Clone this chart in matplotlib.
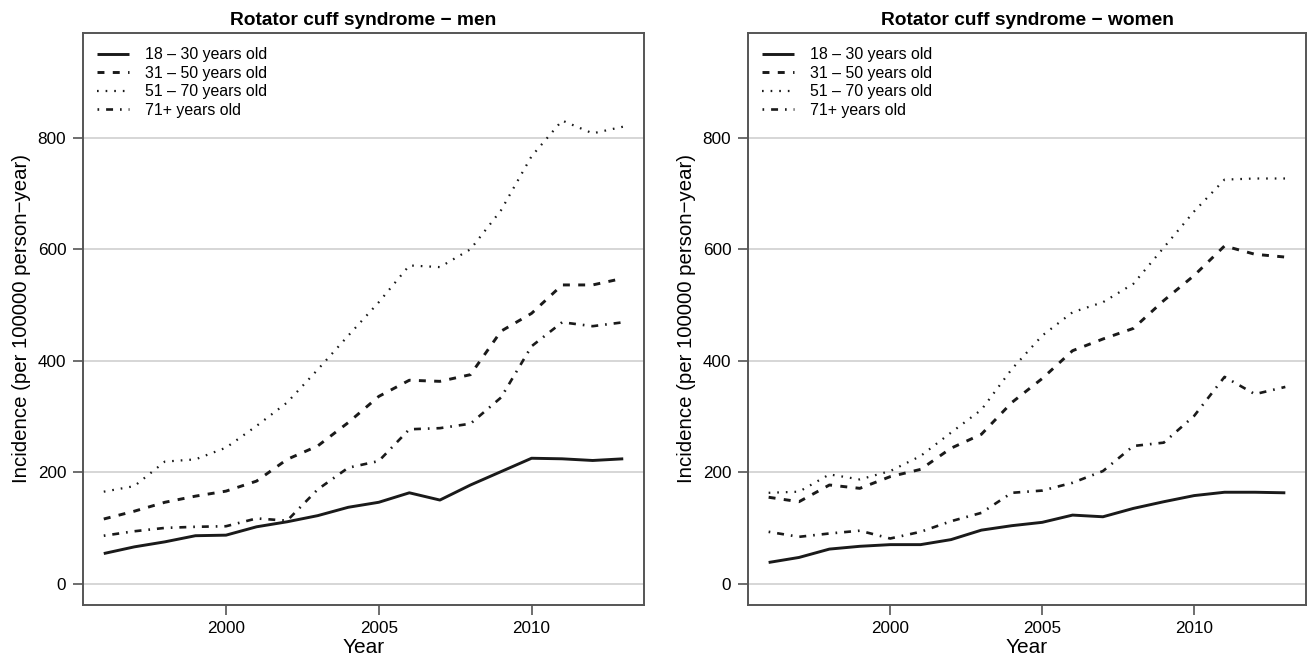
import matplotlib
matplotlib.use("Agg")
import matplotlib.pyplot as plt

years = list(range(1996, 2014))
labels = ["18 \u2013 30 years old", "31 \u2013 50 years old",
          "51 \u2013 70 years old", "71+ years old"]

men_18_30 = [54, 66, 75, 86, 87, 102, 111, 122, 137, 146, 163, 150, 177, 201, 225, 224, 221, 224]
men_31_50 = [116, 130, 146, 157, 166, 184, 223, 247, 289, 336, 365, 363, 375, 453, 485, 536, 536, 548]
men_51_70 = [165, 175, 219, 223, 244, 283, 325, 384, 445, 505, 571, 568, 600, 670, 767, 831, 808, 820]
men_71 = [86, 94, 100, 102, 103, 117, 113, 169, 208, 220, 277, 279, 287, 334, 426, 469, 462, 469]

women_18_30 = [38, 47, 62, 67, 70, 70, 79, 96, 104, 110, 123, 120, 135, 147, 158, 164, 164, 163]
women_31_50 = [155, 147, 177, 171, 192, 205, 243, 268, 325, 368, 418, 439, 458, 508, 553, 606, 591, 586]
women_51_70 = [163, 165, 196, 187, 202, 229, 271, 312, 385, 445, 487, 505, 538, 603, 668, 725, 727, 727]
women_71 = [93, 84, 90, 95, 81, 93, 112, 127, 163, 167, 181, 202, 247, 253, 301, 371, 340, 353]

plt.rcParams["font.family"] = ["Liberation Sans", "DejaVu Sans"]
plt.rcParams["lines.scale_dashes"] = False

styles = [
    dict(linestyle="-", lw=2.1),
    dict(linestyle=(0, (5, 6)), lw=2.1),
    dict(linestyle=(0, (1.2, 5)), lw=1.6),
    dict(linestyle=(0, (1.2, 5, 5, 5)), lw=1.9),
]

axcol = "#555555"

fig = plt.figure(figsize=(13.09, 6.61), dpi=100)
ax1 = fig.add_axes([0.0634, 0.085, 0.4286, 0.865])
ax2 = fig.add_axes([0.5714, 0.085, 0.4263, 0.865])

panels = [
    (ax1, "Rotator cuff syndrome \u2212 men", [men_18_30, men_31_50, men_51_70, men_71]),
    (ax2, "Rotator cuff syndrome \u2212 women", [women_18_30, women_31_50, women_51_70, women_71]),
]

for ax, title, series in panels:
    for yy in [0, 200, 400, 600, 800]:
        ax.axhline(yy, color="#cfcfcf", lw=1.2, zorder=0)
    for vals, st, lab in zip(series, styles, labels):
        ax.plot(years, vals, color="#1a1a1a", label=lab, solid_capstyle="butt",
                dash_capstyle="butt", **st)
    ax.set_xlim(1995.32, 2013.68)
    ax.set_ylim(-38, 988)
    ax.set_xticks([2000, 2005, 2010])
    ax.set_yticks([0, 200, 400, 600, 800])
    ax.tick_params(direction="out", length=7, width=1.2, color=axcol,
                   labelsize=12.3, pad=5)
    for s in ax.spines.values():
        s.set_color(axcol)
        s.set_linewidth(1.4)
    ax.set_title(title, fontsize=13.8, fontweight="bold", pad=6)
    ax.set_xlabel("Year", fontsize=15, labelpad=1)
    ax.set_ylabel("Incidence (per 100000 person\u2212year)", fontsize=14.7, labelpad=5)
    ax.legend(loc="upper left", frameon=False, fontsize=11.4,
              handlelength=2.0, handletextpad=1.0, labelspacing=0.22,
              borderaxespad=0.5)

fig.savefig("out.png", dpi=100)
